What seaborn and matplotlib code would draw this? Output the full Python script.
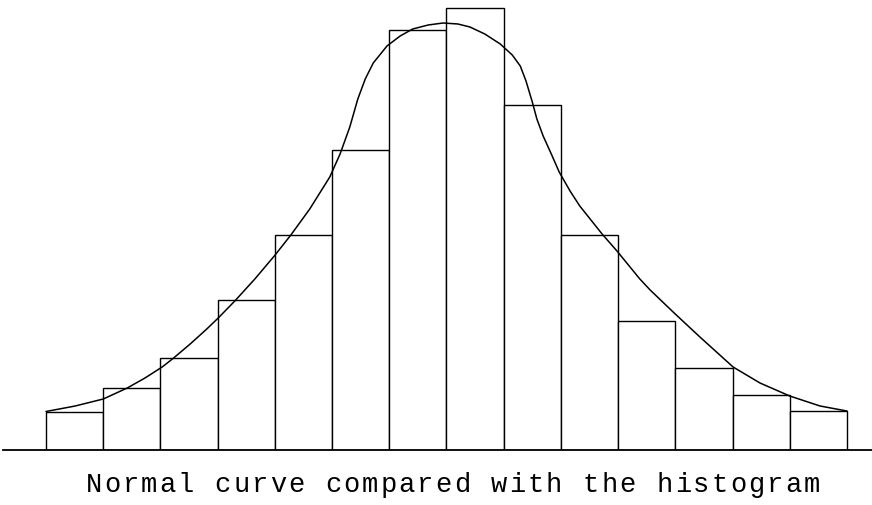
import pandas as pd
import matplotlib
matplotlib.use("Agg")
import matplotlib.pyplot as plt
import seaborn as sns

# Class intervals (14 equal-width classes) and their frequencies
class_edges = list(range(15))
frequencies = [3.8, 6.2, 9.2, 15.0, 21.5, 30.0, 42.0, 44.2, 34.5, 21.5, 12.8, 8.2, 5.4, 3.9]

# Fitted curve, sampled along the class axis
curve_x = [0.0, 0.51, 1.0, 1.42, 1.73, 2.03, 2.22, 2.52, 2.81, 3.01, 3.30, 3.65,
           3.99, 4.28, 4.61, 4.96, 5.14, 5.31, 5.45, 5.58, 5.72, 5.96, 6.19, 6.41,
           6.68, 6.94, 7.20, 7.41, 7.67, 7.94, 8.15, 8.29, 8.39, 8.50, 8.58, 8.69,
           8.84, 8.97, 9.16, 9.33, 9.72, 9.98, 10.38, 10.56, 10.98, 11.43, 12.01,
           12.48, 13.00, 13.53, 14.0]
curve_y = [3.80, 4.35, 5.05, 6.15, 7.15, 8.25, 9.10, 10.55, 12.05, 13.15, 14.85,
           17.05, 19.35, 21.45, 24.05, 27.25, 29.55, 32.25, 35.05, 37.05, 38.65,
           40.35, 41.35, 42.05, 42.45, 42.65, 42.55, 42.25, 41.55, 40.55, 39.45,
           38.35, 36.85, 34.75, 33.05, 31.35, 29.45, 27.75, 25.85, 24.35, 21.55,
           19.85, 17.05, 15.95, 13.65, 11.25, 8.25, 6.65, 5.35, 4.35, 3.85]

caption = "Normal curve compared with the histogram"

sns.set_style("white")

W, H = 872, 506
fig = plt.figure(figsize=(W / 100, H / 100), dpi=100)
fig.patch.set_facecolor("white")
ax = fig.add_axes([3 / W, 55.5 / H, 869 / W, 450.5 / H])

edges = [float(e) for e in class_edges]
hist_df = pd.DataFrame({
    "mid": [(a + b) / 2 for a, b in zip(edges[:-1], edges[1:])],
    "freq": frequencies,
})

sns.histplot(data=hist_df, x="mid", weights="freq", bins=edges, stat="count",
             fill=True, color="white", edgecolor="black", linewidth=1.0,
             alpha=1, ax=ax)

curve_df = pd.DataFrame({"x": curve_x, "y": curve_y})
sns.lineplot(data=curve_df, x="x", y="y", sort=False, color="black",
             linewidth=1.1, estimator=None, ax=ax,
             solid_joinstyle="round", solid_capstyle="round")

ax.set_xlim(-0.752, 14.438)
ax.set_ylim(0, 45.05)
ax.set_xlabel("")
ax.set_ylabel("")
ax.set_xticks([])
ax.set_yticks([])
for side in ("top", "left", "right"):
    ax.spines[side].set_visible(False)
ax.spines["bottom"].set_linewidth(1.3)
ax.spines["bottom"].set_color("black")
ax.patch.set_alpha(0)

# Caption on a fixed typewriter pitch
first_center, pitch, baseline = 94.0, 18.4, 492.0
for i, ch in enumerate(caption):
    if ch == " ":
        continue
    fig.text((first_center + i * pitch) / W, (H - baseline) / H, ch,
             ha="center", va="baseline", fontsize=19.5,
             family="Liberation Mono", color="black")

fig.savefig("out.png", dpi=100)
